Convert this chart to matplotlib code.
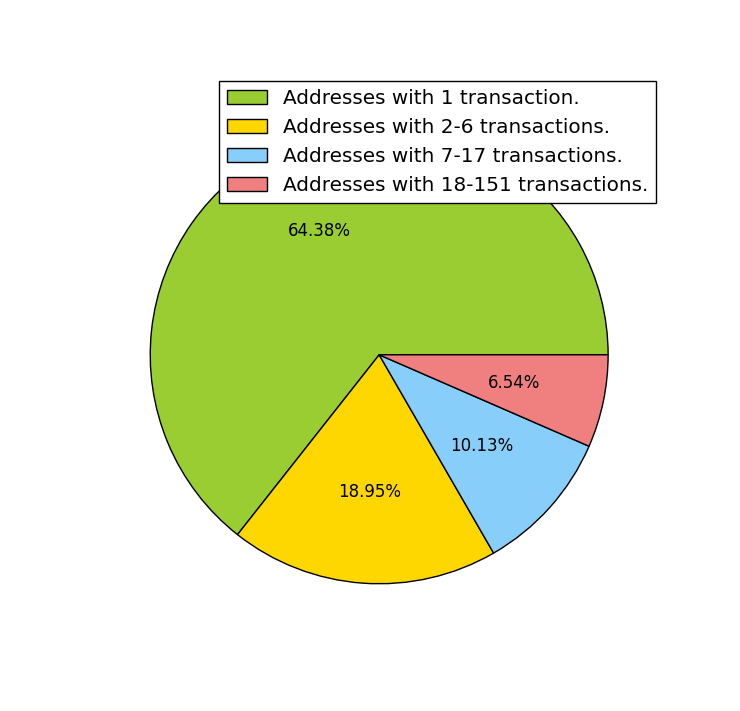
import matplotlib
matplotlib.use('Agg')
import matplotlib.pyplot as plt

labels = ['Addresses with 1 transaction.', 'Addresses with 2-6 transactions.',
          'Addresses with 7-17 transactions.', 'Addresses with 18-151 transactions.']
sizes = [64.38, 18.95, 10.13, 6.54]
colors = ['yellowgreen', 'gold', 'lightskyblue', 'lightcoral']

fig = plt.figure(figsize=(7.4, 7.11), dpi=100)
ax = fig.add_axes([0.1256, 0.0985, 0.7736, 0.805])
patches, texts, autotexts = ax.pie(sizes, colors=colors, autopct='%1.2f%%',
                                   wedgeprops={'edgecolor': 'black', 'linewidth': 1})
for t in autotexts:
    t.set_fontsize(12)
ax.set_xlim(-1.25, 1.25)
ax.set_ylim(-1.25, 1.25)
ax.set_aspect('equal')
leg = ax.legend(patches, labels, loc='upper right', fontsize=14.4, fancybox=False,
                framealpha=1, edgecolor='black', borderaxespad=0,
                bbox_to_anchor=(0.9834, 0.978))
leg.get_frame().set_linewidth(1)
plt.savefig('out.png')
